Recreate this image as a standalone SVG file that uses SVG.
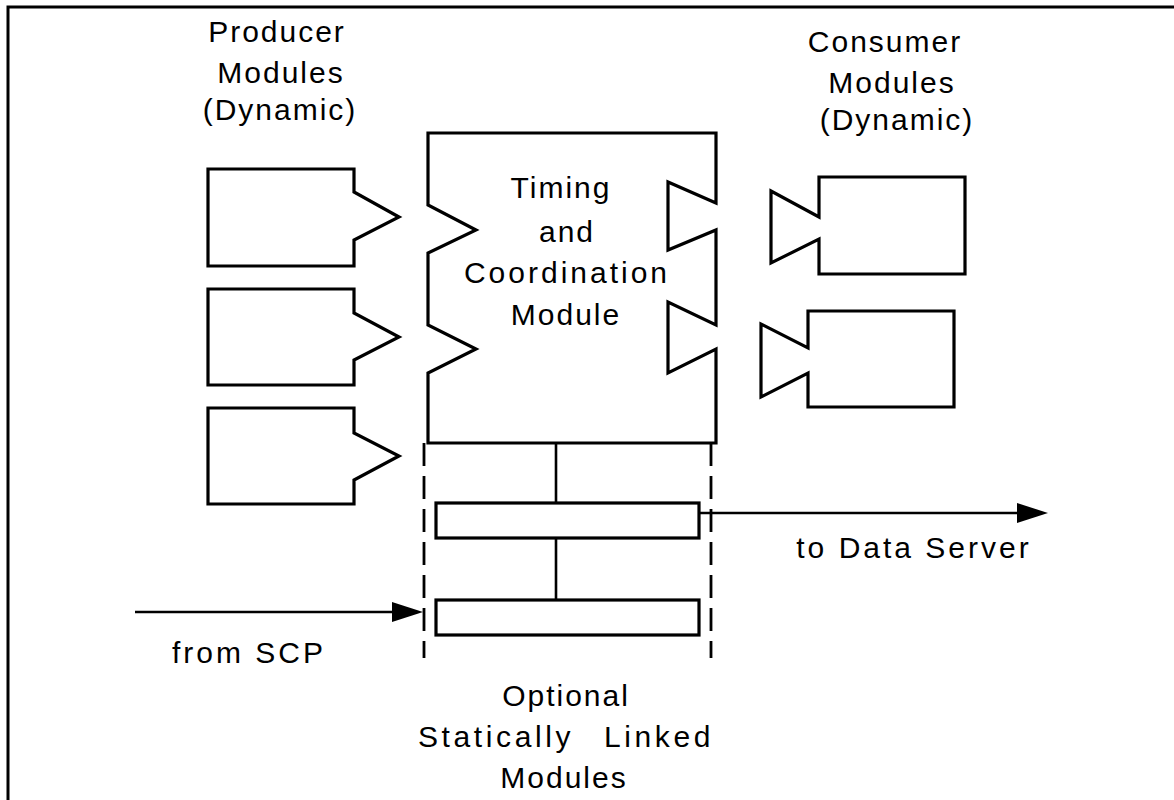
<svg xmlns="http://www.w3.org/2000/svg" width="1174" height="800" viewBox="0 0 1174 800">
<style>
.shape{fill:#fff;stroke:#000;stroke-width:3.2;stroke-linejoin:miter}
.line{fill:none;stroke:#000;stroke-width:2.6}
.dash{fill:none;stroke:#000;stroke-width:2.8;stroke-dasharray:23 10}
.frame{fill:none;stroke:#000;stroke-width:3}
text{font-family:"Liberation Sans",Arial,sans-serif;font-size:30px;letter-spacing:2px;fill:#000;text-anchor:middle}
</style>
<defs>
<marker id="ah" markerUnits="userSpaceOnUse" viewBox="0 0 31 20" refX="21" refY="10" markerWidth="31" markerHeight="20" orient="auto">
<path d="M0,0 L31,10 L0,20 Z" fill="#000"/>
</marker>
</defs>
<rect width="1174" height="800" fill="#fff"/>
<path class="frame" d="M8,800 V7 H1174"/>

<g id="producer-labels">
<text x="277" y="42">Producer</text>
<text x="281" y="83">Modules</text>
<text x="280" y="120">(Dynamic)</text>
</g>
<g id="consumer-labels">
<text x="885" y="52">Consumer</text>
<text x="892" y="93">Modules</text>
<text x="897" y="130">(Dynamic)</text>
</g>

<g id="producer1"><path class="shape" d="M208,169 H354 V192 L399,217 L354,240 V266 H208 Z"/></g>
<g id="producer2"><path class="shape" d="M208,289 H354 V313 L399,337 L354,360 V385 H208 Z"/></g>
<g id="producer3"><path class="shape" d="M208,408 H354 V433 L399,456 L354,480 V504 H208 Z"/></g>

<g id="timing-module">
<path class="shape" d="M428,133 H716 V203 L668,182 V250 L716,230 V325 L668,302 V373 L716,349 V443 H428 V373 L476,349 L428,325 V253 L476,230 L428,205 Z"/>
<text x="561" y="198">Timing</text>
<text x="567" y="242">and</text>
<text x="567" y="283" style="letter-spacing:3px">Coordination</text>
<text x="566" y="325">Module</text>
</g>

<g id="consumer1"><path class="shape" d="M819,177 H965 V274 H819 V239 L771,263 V191 L819,217 Z"/></g>
<g id="consumer2"><path class="shape" d="M808,311 H954 V407 H808 V373 L761,397 V324 L808,348 Z"/></g>

<g id="static-region">
<line class="dash" x1="424" y1="443" x2="424" y2="658"/>
<line class="dash" x1="711" y1="443" x2="711" y2="658"/>
<text x="566" y="706">Optional</text>
<text x="566" y="747" style="letter-spacing:3.6px;word-spacing:18px">Statically Linked</text>
<text x="564" y="788">Modules</text>
</g>
<g id="static1"><rect class="shape" x="436" y="503" width="263" height="35"/></g>
<g id="static2"><rect class="shape" x="436" y="600" width="263" height="35"/></g>

<g id="connectors">
<line class="line" x1="556" y1="443" x2="556" y2="503"/>
<line class="line" x1="556" y1="538" x2="556" y2="600"/>
<line class="line" x1="699" y1="513" x2="1038" y2="513" marker-end="url(#ah)"/>
<line class="line" x1="135" y1="612" x2="413" y2="612" marker-end="url(#ah)"/>
<text x="914" y="558" style="letter-spacing:3px">to Data Server</text>
<text x="249" y="663" style="letter-spacing:3px">from SCP</text>
</g>
</svg>
